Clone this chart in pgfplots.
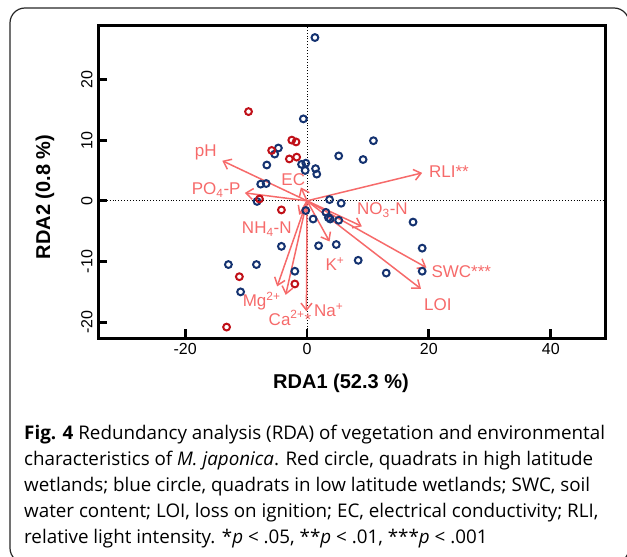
\documentclass[border=0pt]{standalone}
\usepackage{fontspec}
\setmainfont{Open Sans}
\newfontfamily\arial{Liberation Sans}
\usepackage{pgfplots}
\pgfplotsset{compat=1.18}
\usetikzlibrary{arrows.meta}
\definecolor{vecred}{RGB}{246,106,106}
\definecolor{hired}{RGB}{192,16,24}
\definecolor{lowblue}{RGB}{20,50,112}

\begin{document}
\begin{tikzpicture}
\useasboundingbox (0pt,0pt) rectangle (627pt,-557pt);
\draw[line width=1.2pt, black!85, rounded corners=15pt] (10pt,-8pt) rectangle (629pt,-563pt);
\begin{axis}[
  at={(98pt,-338pt)}, anchor=south west,
  scale only axis, width=507pt, height=312pt,
  xmin=-34.3, xmax=48.9, ymin=-22.6, ymax=28.8,
  xtick={-20,0,20,40}, ytick={-20,-10,0,10,20},
  xtick pos=bottom, ytick pos=left,
  tick align=inside, major tick length=9pt,
  tick style={line width=2.8pt, black},
  axis line style={line width=3pt},
  /pgf/number format/assume math mode=true,
  tick label style={font=\arial\fontsize{16}{18}\selectfont},
  yticklabel style={rotate=90, anchor=south},
  yticklabel shift=2pt, xticklabel shift=2pt,
  clip=false,
]
% zero lines
\addplot[black, dotted, line width=0.9pt] coordinates {(0,-22.6) (0,28.8)};
\addplot[black, dotted, line width=0.9pt] coordinates {(-34.3,0) (48.9,0)};
% quadrats, low latitude
\addplot[only marks, mark=o, mark size=3.4pt, line width=2pt, lowblue] coordinates {
(1.3,26.9) (-0.6,13.5) (-4.7,8.7) (-5.3,7.7) (-6.6,5.9) (-0.9,6.0) (-0.2,6.2)
(-0.3,5.0) (1.4,5.3) (1.6,4.4) (-7.6,2.75) (-6.7,2.85) (-8.2,-0.1) (10.9,9.9)
(5.2,7.4) (9.2,6.8) (3.7,0.2) (5.6,-0.4) (-0.2,-1.6) (1.0,-3.0) (3.1,-1.9)
(3.5,-2.75) (3.8,-3.0) (5.2,-3.2) (17.4,-3.5) (1.9,-7.4) (4.8,-7.2) (18.9,-7.8)
(8.4,-9.8) (13.0,-11.9) (18.9,-11.6) (-4.2,-7.5) (-12.9,-10.5) (-8.3,-10.5)
(-2.0,-11.6) (-10.9,-15.0)
};
% quadrats, high latitude
\addplot[only marks, mark=o, mark size=3.4pt, line width=2pt, hired] coordinates {
(-9.6,14.7) (-2.5,10.0) (-1.8,9.7) (-5.8,8.3) (-2.9,6.9) (-1.7,7.2) (-7.8,0.3)
(-4.2,-1.5) (-11.1,-12.5) (-2.0,-13.7) (-13.2,-20.8)
};
% environmental vectors
\pgfplotsset{vec/.style={vecred, line width=1.5pt, -{Straight Barb[length=7pt,width=11pt]}}}
\addplot[vec] coordinates {(0,0) (-13.9,6.6)};
\addplot[vec] coordinates {(0,0) (-10.2,1.3)};
\addplot[vec] coordinates {(0,0) (-1.0,2.2)};
\addplot[vec] coordinates {(0,0) (18.9,4.6)};
\addplot[vec] coordinates {(0,0) (9.0,-4.2)};
\addplot[vec] coordinates {(0,0) (19.6,-11.0)};
\addplot[vec] coordinates {(0,0) (18.7,-14.5)};
\addplot[vec] coordinates {(0,0) (3.7,-6.7)};
\addplot[vec] coordinates {(0,0) (-0.1,-18.2)};
\addplot[vec] coordinates {(0,0) (-4.9,-14.1)};
\addplot[vec] coordinates {(0,0) (-3.5,-15.5)};
\addplot[vec] coordinates {(0,0) (-1.3,-2.3)};
\begin{scope}[every node/.style={text=vecred, font=\arial\fontsize{17}{19}\selectfont, inner sep=0pt}]
\node at (axis cs:-16.6,7.95) {pH};
\node at (axis cs:-14.9,1.8) {PO\textsubscript{4}-P};
\node at (axis cs:-2.25,3.45) {EC};
\node[anchor=west] at (axis cs:20.0,4.8) {RLI**};
\node[anchor=west] at (axis cs:8.2,-1.5) {NO\textsubscript{3}-N};
\node[anchor=west] at (axis cs:20.4,-11.65) {SWC***};
\node[anchor=west] at (axis cs:19.2,-17.1) {LOI};
\node at (axis cs:4.6,-10.4) {K\textsuperscript{+}};
\node[anchor=west] at (axis cs:1.15,-18.0) {Na\textsuperscript{+}};
\node at (axis cs:-7.45,-16.5) {Mg\textsuperscript{2+}};
\node at (axis cs:-2.8,-19.3) {Ca\textsuperscript{2+}*};
\node at (axis cs:-6.6,-4.65) {NH\textsubscript{4}-N};
\end{scope}
\end{axis}
\node[font=\arial\bfseries\fontsize{20}{22}\selectfont] at (341pt,-383pt) {RDA1 (52.3 \%)};
\node[font=\arial\bfseries\fontsize{20}{22}\selectfont, rotate=90] at (45pt,-197pt) {RDA2 (0.8 \%)};
\begin{scope}[every node/.style={anchor=base west, inner sep=0pt, font=\fontsize{18.8}{21}\selectfont}]
\node at (24pt,-439pt) {\textbf{Fig. 4} Redundancy analysis (RDA) of vegetation and environmental};
\node at (24pt,-465pt) {characteristics of \textit{M. japonica}. Red circle, quadrats in high latitude};
\node at (24pt,-491pt) {wetlands; blue circle, quadrats in low latitude wetlands; SWC, soil};
\node at (24pt,-517pt) {water content; LOI, loss on ignition; EC, electrical conductivity; RLI,};
\node at (24pt,-543pt) {relative light intensity. *\textit{p} < .05, **\textit{p} < .01, ***\textit{p} < .001};
\end{scope}
\end{tikzpicture}
\end{document}
